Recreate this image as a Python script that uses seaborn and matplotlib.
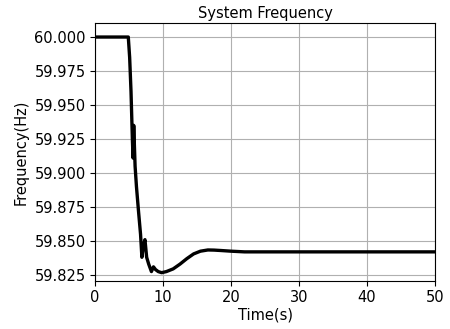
import matplotlib
matplotlib.use("Agg")
import matplotlib.pyplot as plt
import seaborn as sns
import pandas as pd

# frequency response
time_s = [0.0, 4.9, 5.1, 5.3, 5.5, 5.6, 5.7, 5.8, 5.9, 6.1, 6.4, 6.7, 6.9, 7.1, 7.35, 7.6,
          7.9, 8.3, 8.6, 8.9, 9.3, 9.8, 10.5, 11.5, 12.5, 13.5, 14.5, 15.5, 16.6, 17.5,
          18.5, 20.0, 22.0, 25.0, 30.0, 40.0, 50.0]
freq_hz = [60.000, 60.000, 59.985, 59.960, 59.925, 59.911, 59.935, 59.920, 59.905, 59.890,
           59.872, 59.855, 59.838, 59.846, 59.851, 59.838, 59.833, 59.8275, 59.831, 59.829,
           59.8275, 59.8267, 59.8275, 59.8295, 59.833, 59.837, 59.8405, 59.8425, 59.8434,
           59.8433, 59.843, 59.8425, 59.842, 59.842, 59.842, 59.842, 59.842]

df = pd.DataFrame({"t": time_s, "f": freq_hz})

fig = plt.figure(figsize=(4.5, 3.29), dpi=100)
ax = fig.add_axes([0.211, 0.146, 0.756, 0.784])
sns.lineplot(data=df, x="t", y="f", color="black", linewidth=2.4, ax=ax)
ax.grid(True, color="#b0b0b0", linewidth=0.8)
ax.set_xlim(0, 50)
ax.set_ylim(59.8206, 60.0103)
ax.set_yticks([59.825, 59.850, 59.875, 59.900, 59.925, 59.950, 59.975, 60.000])
ax.yaxis.set_major_formatter(matplotlib.ticker.FormatStrFormatter("%.3f"))
ax.tick_params(labelsize=10.5, length=3.5, pad=3)
ax.set_xlabel("Time(s)", fontsize=10.5, labelpad=2)
ax.set_ylabel("Frequency(Hz)", fontsize=10.5, labelpad=4)
ax.set_title("System Frequency", fontsize=10.5, pad=3.5)
fig.savefig("out.png", dpi=100)
